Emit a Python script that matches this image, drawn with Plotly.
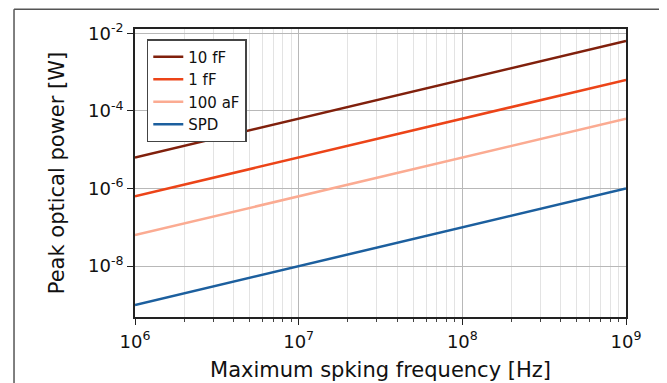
import plotly.graph_objects as go

freq = [1e6, 1e7, 1e8, 1e9]
p_10fF = [6.3e-6, 6.3e-5, 6.3e-4, 6.3e-3]
p_1fF = [6.3e-7, 6.3e-6, 6.3e-5, 6.3e-4]
p_100aF = [6.3e-8, 6.3e-7, 6.3e-6, 6.3e-5]
p_spd = [1.0e-9, 1.0e-8, 1.0e-7, 1.0e-6]

series_names = ["10 fF", "1 fF", "100 aF", "SPD"]
series_vals = [p_10fF, p_1fF, p_100aF, p_spd]
colors = ["#80200c", "#ec4418", "#fbab92", "#1c5f9e"]

x_major = [1e6, 1e7, 1e8, 1e9]
x_major_text = ["10<sup>6</sup>", "10<sup>7</sup>", "10<sup>8</sup>", "10<sup>9</sup>"]
x_minor = [m * 10**e for e in (6, 7, 8) for m in range(2, 10)]
y_major = [1e-2, 1e-4, 1e-6, 1e-8]
y_major_text = ["10<sup>-2</sup>", "10<sup>-4</sup>", "10<sup>-6</sup>", "10<sup>-8</sup>"]

FONT = "DejaVu Sans"

fig = go.Figure()
for name, vals, c in zip(series_names, series_vals, colors):
    fig.add_trace(go.Scatter(x=freq, y=vals, mode="lines", name=name,
                             line=dict(color=c, width=2.5)))

# page body has an 8px margin; figure offset accordingly
fig.update_layout(
    width=659, height=375,
    margin=dict(l=127, r=41, t=21, b=66),
    paper_bgcolor="white", plot_bgcolor="white",
    font=dict(family=FONT, color="#111"),
    showlegend=True,
    legend=dict(x=0.024, y=0.965, xanchor="left", yanchor="top",
                bgcolor="white", bordercolor="#444", borderwidth=1.5,
                font=dict(size=15, family=FONT), tracegroupgap=0,
                itemwidth=30),
    shapes=[
        dict(type="line", xref="paper", yref="paper", x0=-0.2464, x1=-0.2464,
             y0=-0.5, y1=1.0684, line=dict(color="#555", width=1.5)),
        dict(type="line", xref="paper", yref="paper", x0=-0.2464, x1=1.5,
             y0=1.0684, y1=1.0684, line=dict(color="#555", width=1.5)),
    ],
)

fig.update_xaxes(
    type="log", range=[6, 9], automargin=False,
    tickvals=x_major, ticktext=x_major_text,
    ticks="outside", ticklen=6, tickwidth=1.2, tickcolor="#222",
    ticklabelstandoff=1,
    showline=True, linecolor="#222", linewidth=1.8, mirror=True,
    showgrid=True, gridcolor="#b8b8b8", gridwidth=1,
    minor=dict(tickvals=x_minor, ticks="outside", ticklen=3, tickcolor="#444",
               showgrid=True, gridcolor="#e3e3e3", gridwidth=1),
    tickfont=dict(size=18, family=FONT),
    title=dict(text="Maximum spking frequency [Hz]", font=dict(size=21, family=FONT),
               standoff=12),
    zeroline=False,
)
fig.update_yaxes(
    type="log", range=[-9.31, -1.89], automargin=False,
    tickvals=y_major, ticktext=y_major_text,
    ticks="outside", ticklen=6, tickwidth=1.2, tickcolor="#222",
    showline=True, linecolor="#222", linewidth=1.8, mirror=True,
    showgrid=True, gridcolor="#b8b8b8", gridwidth=1,
    tickfont=dict(size=18, family=FONT),
    title=dict(text="Peak optical power [W]", font=dict(size=21, family=FONT),
               standoff=18),
    zeroline=False,
)

fig.write_html("out.html")
